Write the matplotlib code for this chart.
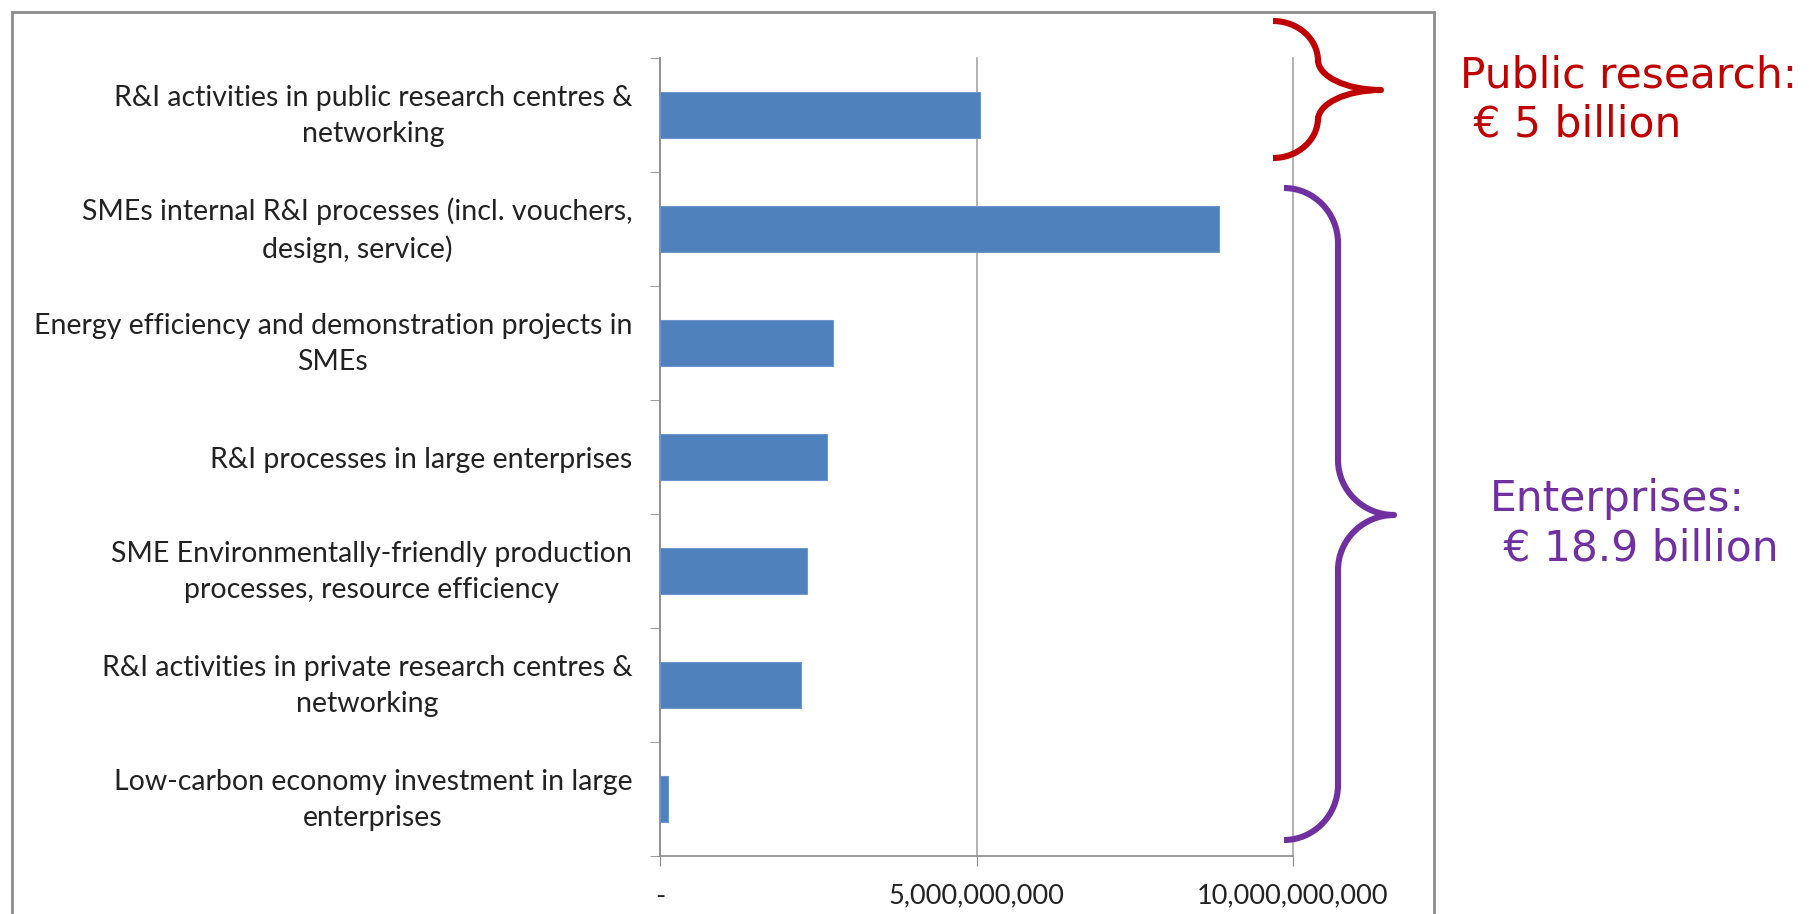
import numpy as np
import matplotlib
matplotlib.use('Agg')
import matplotlib.pyplot as plt
import matplotlib.transforms as mtransforms
from matplotlib.path import Path
from matplotlib.patches import PathPatch, Rectangle

# data (EUR)
categories = [
    'R&I activities in public research centres &\nnetworking',
    'SMEs internal R&I processes (incl. vouchers,\ndesign, service)',
    'Energy efficiency and demonstration projects in\nSMEs',
    'R&I processes in large enterprises',
    'SME Environmentally-friendly production\nprocesses, resource efficiency',
    'R&I activities in private research centres &\nnetworking',
    'Low-carbon economy investment in large\nenterprises',
]
values = [5.05e9, 8.83e9, 2.73e9, 2.64e9, 2.33e9, 2.22e9, 0.13e9]
x_ticks = [0, 5e9, 10e9]
x_tick_labels = ['-', '5,000,000,000', '10,000,000,000']

W, H = 1809, 914
label_font = ['Lato', 'DejaVu Sans']
grey = '#8a8a8a'

fig = plt.figure(figsize=(W / 100, H / 100), dpi=100)

# axes placed in pixel terms
ax_left, ax_right, ax_top, ax_bot = 660, 1293, 58, 856
ax = fig.add_axes([ax_left / W, 1 - ax_bot / H, (ax_right - ax_left) / W, (ax_bot - ax_top) / H])

ypos = np.arange(len(categories))
ax.barh(ypos, values, height=0.4, color='#4F81BD', edgecolor='#6f97cc', linewidth=0.8, zorder=3)
ax.set_xlim(0, 10e9)
ax.set_ylim(len(categories) - 0.5, -0.5)

ax.set_xticks(x_ticks)
ax.set_xticklabels(x_tick_labels, family=label_font, fontsize=19.5, color='#222222')
ax.tick_params(axis='x', direction='out', length=7, color=grey, pad=13)

ax.set_yticks(ypos)
ax.set_yticklabels(categories, family=label_font, fontsize=20.5, color='#222222',
                   multialignment='center', linespacing=1.5)
ax.tick_params(axis='y', which='major', length=0, pad=20)
ax.set_yticks(np.arange(len(categories) + 1) - 0.5, minor=True)
ax.tick_params(axis='y', which='minor', direction='out', length=7, color=grey)

# two-line labels sit a little higher in the original
shift = mtransforms.ScaledTranslation(0, 5 / 72, fig.dpi_scale_trans)
for lab in ax.get_yticklabels():
    if '\n' in lab.get_text():
        lab.set_transform(lab.get_transform() + shift)

ax.grid(axis='x', color='#a6a6a6', linewidth=1.2, zorder=0)
for gl in ax.get_xgridlines():
    gl.set_clip_on(False)
for s in ['top', 'right']:
    ax.spines[s].set_visible(False)
for s in ['left', 'bottom']:
    ax.spines[s].set_color(grey)
    ax.spines[s].set_linewidth(1.2)

# outer frame of the slide chart
fig.add_artist(Rectangle((12 / W, -0.1), (1434 - 12) / W, 1 - 12 / H + 0.1,
                         transform=fig.transFigure, fill=False,
                         edgecolor='#8c8c8c', linewidth=2))


def brace(x_end, x_spine, x_tip, y_top, y_mid, y_bot, r_end, r_tip, color):
    k = 0.55
    def half(y0, sgn):
        # from the outer end to the tip
        pts = [(x_end, y0),
               (x_end + k * (x_spine - x_end), y0),
               (x_spine, y0 + sgn * (r_end - k * r_end)),
               (x_spine, y0 + sgn * r_end),
               (x_spine, y_mid - sgn * r_tip),
               (x_spine, y_mid - sgn * (r_tip - k * r_tip)),
               (x_tip - k * (x_tip - x_spine), y_mid),
               (x_tip, y_mid)]
        return pts
    top = half(y_top, 1)
    bot = half(y_bot, -1)[::-1]
    pts = top + bot[1:]
    codes = ([Path.MOVETO] + [Path.CURVE4] * 3 + [Path.LINETO] + [Path.CURVE4] * 3
             + [Path.CURVE4] * 3 + [Path.LINETO] + [Path.CURVE4] * 3)
    pts = [(x / W, 1 - y / H) for x, y in pts]
    fig.add_artist(PathPatch(Path(pts, codes), transform=fig.transFigure,
                             fill=False, edgecolor=color, linewidth=4.4,
                             capstyle='butt', joinstyle='round'))


brace(1273, 1318, 1381, 21, 90, 158, 40, 30, '#C00000')
brace(1284, 1338, 1394, 188, 515, 840, 55, 55, '#7030A0')

fig.text(1460 / W, 1 - 100 / H, 'Public research:\n € 5 billion', color='#C00000',
         fontsize=30.5, family='DejaVu Sans', ha='left', va='center', linespacing=1.22)
fig.text(1490 / W, 1 - 524 / H, 'Enterprises:\n € 18.9 billion', color='#7030A0',
         fontsize=30.5, family='DejaVu Sans', ha='left', va='center', linespacing=1.22)

fig.savefig('out.png', dpi=100, facecolor='white')
